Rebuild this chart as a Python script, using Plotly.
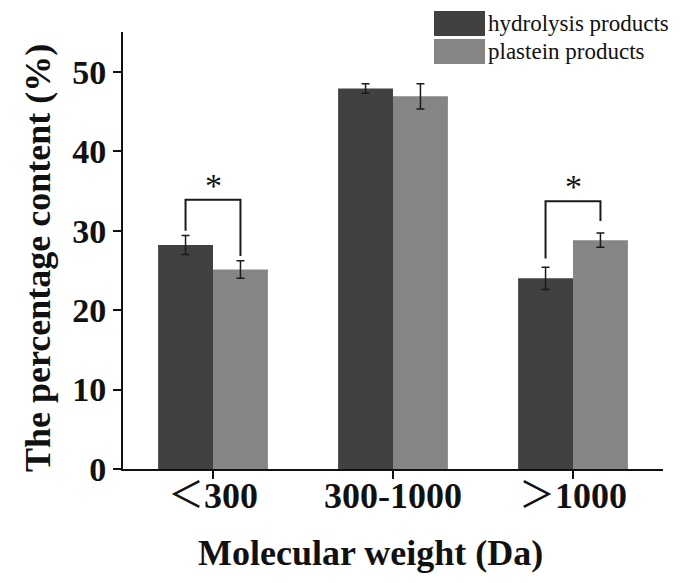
import plotly.graph_objects as go

# ---- data ----
categories = ["<300", "300-1000", ">1000"]
tick_labels = ["<span style='font-family:Noto Sans CJK SC;font-weight:normal'>＜</span>300", "300-1000",
               "<span style='font-family:Noto Sans CJK SC;font-weight:normal'>＞</span>1000"]
hydrolysis = [28.2, 47.9, 24.0]
hydrolysis_err = [1.2, 0.6, 1.4]
plastein = [25.1, 46.9, 28.8]
plastein_err = [1.1, 1.6, 0.9]
series_names = ["hydrolysis products", "plastein products"]
x_title = "Molecular weight (Da)"
y_title = "The percentage content (%)"

# significance brackets: category index, top, left-leg bottom, right-leg bottom
sig_cats = [0, 2]
sig_top = [33.9, 33.7]
sig_left_bottom = [30.0, 26.5]
sig_right_bottom = [26.8, 31.2]
sig_label = ["*", "*"]

y_ticks = [0, 10, 20, 30, 40, 50]

DARK = "#414141"
LIGHT = "#858585"
FONT = "Liberation Serif"
BARGAP = 0.39

fig = go.Figure()
fig.add_trace(go.Bar(
    x=categories, y=hydrolysis, name=series_names[0],
    marker=dict(color=DARK, line=dict(width=0)),
    error_y=dict(type="data", array=hydrolysis_err, color="#1a1a1a", thickness=1.5, width=4),
    showlegend=False,
))
fig.add_trace(go.Bar(
    x=categories, y=plastein, name=series_names[1],
    marker=dict(color=LIGHT, line=dict(width=0)),
    error_y=dict(type="data", array=plastein_err, color="#1a1a1a", thickness=1.5, width=4),
    showlegend=False,
))

# brackets
off = (1 - BARGAP) / 4
shapes = []
annotations = []
for c, top, lb, rb, lab in zip(sig_cats, sig_top, sig_left_bottom, sig_right_bottom, sig_label):
    xl, xr = c - off, c + off
    shapes.append(dict(type="path", xref="x", yref="y",
                       path=f"M {xl},{lb} L {xl},{top} L {xr},{top} L {xr},{rb}",
                       line=dict(color="#1a1a1a", width=2)))
    annotations.append(dict(x=c, y=top, xref="x", yref="y", text=lab, showarrow=False,
                            yanchor="bottom", yshift=-6,
                            font=dict(family=FONT, size=34, color="#111")))

# pixel layout (page coordinates; the page body adds an 8px offset)
OFF = 8
W, H = 681 - OFF, 583 - OFF
PL, PT, PW, PH = 123 - OFF, 32 - OFF, 540, 437

def px(x):
    return (x - OFF - PL) / PW

def py(y):
    return (PT + PH - (y - OFF)) / PH

# custom legend (large swatches)
legend_cy = [23.5, 51.5]
legend_cols = [DARK, LIGHT]
for cy, col, name in zip(legend_cy, legend_cols, series_names):
    shapes.append(dict(type="rect", xref="paper", yref="paper",
                       x0=px(434), x1=px(485), y0=py(cy + 12.5), y1=py(cy - 12.5),
                       fillcolor=col, line=dict(width=0)))
    annotations.append(dict(x=px(486), y=py(cy), xref="paper", yref="paper", text=name,
                            showarrow=False, xanchor="left", yanchor="middle",
                            font=dict(family=FONT, size=23, color="#111")))

# axis titles
annotations.append(dict(x=px(370), y=py(553), xref="paper", yref="paper", text=f"<b>{x_title}</b>",
                        showarrow=False, xanchor="center", yanchor="middle",
                        font=dict(family=FONT, size=36, color="#111")))
annotations.append(dict(x=px(38), y=py(258), xref="paper", yref="paper", text=f"<b>{y_title}</b>",
                        showarrow=False, xanchor="center", yanchor="middle", textangle=-90,
                        font=dict(family=FONT, size=36, color="#111")))

fig.update_layout(
    width=W, height=H,
    margin=dict(l=PL, r=W - PL - PW, t=PT, b=H - PT - PH),
    paper_bgcolor="white", plot_bgcolor="white",
    barmode="group", bargap=BARGAP, bargroupgap=0,
    shapes=shapes, annotations=annotations,
    font=dict(family=FONT, color="#111"),
)
fig.update_xaxes(
    range=[-0.5, 2.5], tickmode="array", tickvals=categories, ticktext=tick_labels,
    showline=True, linecolor="#111", linewidth=2, mirror=False,
    ticks="outside", ticklen=8, tickwidth=2, tickcolor="#111",
    tickfont=dict(family=FONT, size=36, color="#111", weight="bold"),
    ticklabelstandoff=-14,
    showgrid=False, zeroline=False, automargin=False,
)
fig.update_yaxes(
    range=[0, 55], tickvals=y_ticks,
    showline=True, linecolor="#111", linewidth=2,
    ticks="outside", ticklen=8, tickwidth=2, tickcolor="#111",
    tickfont=dict(family=FONT, size=34, color="#111", weight="bold"),
    showgrid=False, zeroline=False, automargin=False,
)

fig.write_html("out.html")
